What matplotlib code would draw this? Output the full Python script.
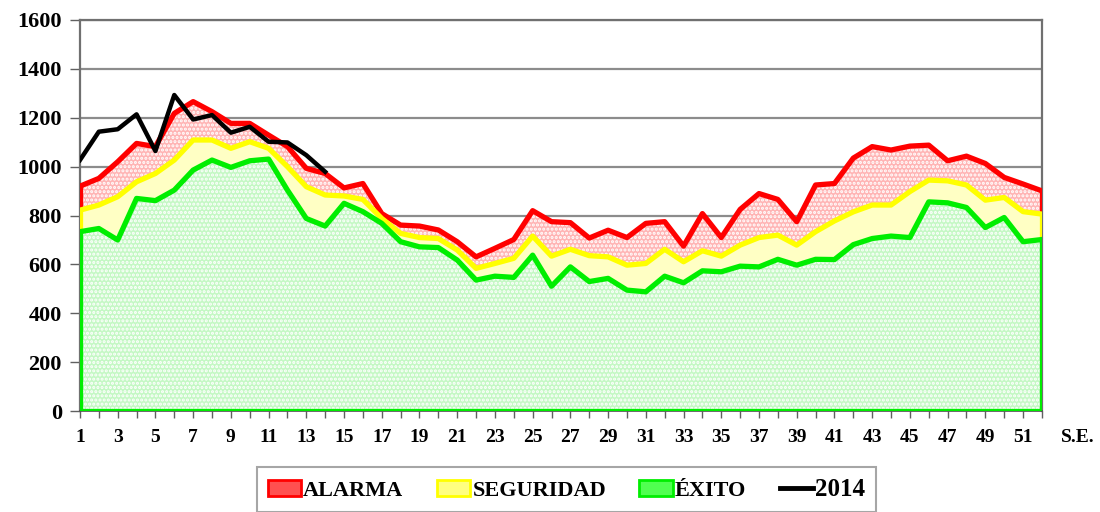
import matplotlib
matplotlib.use("Agg")
import matplotlib.pyplot as plt
from matplotlib.patches import Patch
from matplotlib.lines import Line2D

weeks = list(range(1, 53))
alarma = [920, 952, 1020, 1095, 1082, 1218, 1266, 1225, 1177, 1177, 1129, 1082, 993, 972,
          913, 931, 808, 761, 757, 741, 693, 631, 666, 702, 820, 775, 771, 708, 740, 710,
          768, 775, 675, 808, 710, 825, 890, 866, 775, 925, 931, 1035, 1082, 1068, 1084,
          1088, 1024, 1043, 1013, 956, 929, 901]
seguridad = [822, 843, 877, 938, 972, 1027, 1109, 1109, 1075, 1102, 1075, 1000, 918, 884,
             880, 866, 788, 727, 710, 706, 659, 584, 604, 625, 716, 634, 662, 636, 631, 597,
             604, 662, 611, 656, 634, 679, 710, 720, 679, 734, 778, 815, 843, 843, 898, 945,
             942, 925, 863, 874, 816, 806]
exito = [734, 747, 700, 870, 861, 904, 986, 1027, 997, 1024, 1031, 904, 788, 757, 850, 816,
         768, 693, 672, 669, 618, 536, 552, 547, 638, 511, 590, 530, 543, 495, 488, 552, 525,
         574, 570, 593, 590, 621, 597, 621, 620, 681, 706, 716, 710, 856, 852, 833, 751, 792,
         693, 702]
weeks_2014 = list(range(1, 15))
y2014 = [1027, 1143, 1153, 1214, 1064, 1293, 1193, 1211, 1139, 1163, 1102, 1099, 1047, 979]

yticks = [0, 200, 400, 600, 800, 1000, 1200, 1400, 1600]

RED = "#ff0000"
YEL = "#ffff00"
GRN = "#00ee00"

serif = ["Liberation Serif", "DejaVu Serif"]
plt.rcParams["hatch.linewidth"] = 1.5

fig = plt.figure(figsize=(11, 5.12), dpi=100)
ax = fig.add_axes([0.0727, 0.197, 0.8745, 0.764])

# fills
ax.fill_between(weeks, 0, exito, facecolor="#c4f8c4", edgecolor="white",
                hatch="....", linewidth=0, zorder=2)
ax.fill_between(weeks, exito, seguridad, facecolor="#ffffc4", linewidth=0, zorder=2)
ax.fill_between(weeks, seguridad, alarma, facecolor="#ffb4b4", edgecolor="white",
                hatch="....", linewidth=0, zorder=2)

lw = 3.8
# edge borders
ax.plot([weeks[0], weeks[0]], [seguridad[0], alarma[0]], color=RED, lw=lw, zorder=3, solid_capstyle="butt")
ax.plot([weeks[-1], weeks[-1]], [seguridad[-1], alarma[-1]], color=RED, lw=lw, zorder=3, solid_capstyle="butt")
ax.plot([weeks[0], weeks[0]], [exito[0], seguridad[0]], color=YEL, lw=lw, zorder=3, solid_capstyle="butt")
ax.plot([weeks[-1], weeks[-1]], [exito[-1], seguridad[-1]], color=YEL, lw=lw, zorder=3, solid_capstyle="butt")
ax.plot([weeks[0], weeks[0]], [0, exito[0]], color=GRN, lw=lw, zorder=3, solid_capstyle="butt")
ax.plot([weeks[-1], weeks[-1]], [0, exito[-1]], color=GRN, lw=lw, zorder=3, solid_capstyle="butt")
ax.plot([weeks[0], weeks[-1]], [0, 0], color=GRN, lw=lw, zorder=3)

ax.plot(weeks, alarma, color=RED, lw=lw, zorder=4, solid_joinstyle="round")
ax.plot(weeks, seguridad, color=YEL, lw=lw, zorder=5, solid_joinstyle="round")
ax.plot(weeks, exito, color=GRN, lw=lw, zorder=6, solid_joinstyle="round")
ax.plot(weeks_2014, y2014, color="black", lw=3.2, zorder=7, solid_joinstyle="round")

ax.set_xlim(1, 52)
ax.set_ylim(0, 1600)
ax.set_yticks(yticks)
ax.set_yticklabels([str(v) for v in yticks], fontfamily=serif, fontweight="bold", fontsize=16)
ax.set_xticks(weeks)
ax.set_xticklabels([str(w) if w % 2 == 1 else "" for w in weeks],
                   fontfamily=serif, fontweight="bold", fontsize=14)
ax.tick_params(axis="x", length=5, width=1, color="#606060", pad=8)
ax.tick_params(axis="y", length=7, width=1, color="#606060", pad=6)

ax.grid(axis="y", color="#8c8c8c", lw=1.6, zorder=1)
ax.set_axisbelow(True)
for s in ["left", "right", "top"]:
    ax.spines[s].set_color("#707070")
    ax.spines[s].set_linewidth(1.6)
ax.spines["bottom"].set_color("#505050")
ax.spines["bottom"].set_linewidth(1.2)

fig.text(0.98, 0.146, "S.E.", fontfamily=serif, fontweight="bold", fontsize=14,
         ha="center", va="center")

handles = [
    Patch(facecolor="#ff5050", edgecolor=RED, lw=2),
    Patch(facecolor="#ffff80", edgecolor=YEL, lw=2),
    Patch(facecolor="#50ff50", edgecolor=GRN, lw=2),
    Line2D([0], [0], color="black", lw=3.5),
]
labels = ["ALARMA", "SEGURIDAD", "ÉXITO", "2014"]
leg = fig.legend(handles, labels, loc="center", bbox_to_anchor=(0.515, 0.044), ncol=4,
                 prop={"family": serif, "weight": "bold", "size": 16},
                 frameon=True, fancybox=False, edgecolor="#909090",
                 handlelength=1.5, handletextpad=0.1, columnspacing=1.5,
                 borderpad=0.5, borderaxespad=0)
leg.get_frame().set_linewidth(1.5)
leg.get_texts()[3].set_fontsize(18)

fig.savefig("out.png", dpi=100)
